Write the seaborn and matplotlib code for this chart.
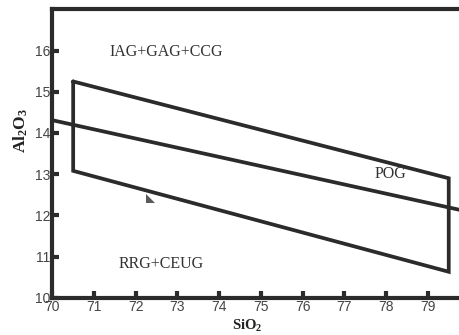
import matplotlib
matplotlib.use("Agg")
import matplotlib.pyplot as plt
import seaborn as sns
import pandas as pd

# Data
box_sio2 = [70.5, 70.5, 79.5, 79.5, 70.5]
box_al2o3 = [15.25, 13.08, 10.63, 12.9, 15.25]
div_sio2 = [70.0, 80.0]
div_al2o3 = [14.31, 12.08]
tri_sio2 = [72.25, 72.25, 72.47]
tri_al2o3 = [12.52, 12.30, 12.30]
x_ticks = [70, 71, 72, 73, 74, 75, 76, 77, 78, 79]
y_ticks = [10, 11, 12, 13, 14, 15, 16]
labels = ["IAG+GAG+CCG", "POG", "RRG+CEUG"]
label_x = [71.38, 77.72, 71.58]
label_y = [15.97, 13.0, 10.82]

sns.set_theme(style="ticks")
plt.rcParams['font.family'] = ['Liberation Sans', 'DejaVu Sans']
plt.rcParams['mathtext.fontset'] = 'custom'
plt.rcParams['mathtext.rm'] = 'Liberation Serif:bold'
plt.rcParams['mathtext.it'] = 'Liberation Serif:bold'
plt.rcParams['mathtext.bf'] = 'Liberation Serif:bold'
plt.rcParams['mathtext.default'] = 'rm'

fig = plt.figure(figsize=(4.6, 3.35), dpi=100)
ax = fig.add_axes([0.1137, 0.1113, 1.0 - 0.1137, 0.972 - 0.1113])

lc = "#2b2b2b"
box_df = pd.DataFrame({"x": box_sio2, "y": box_al2o3})
div_df = pd.DataFrame({"x": div_sio2, "y": div_al2o3})
sns.lineplot(data=box_df, x="x", y="y", sort=False, estimator=None, ax=ax,
             color=lc, linewidth=2.7, solid_joinstyle="miter")
sns.lineplot(data=div_df, x="x", y="y", sort=False, estimator=None, ax=ax,
             color=lc, linewidth=2.7)
ax.fill(tri_sio2, tri_al2o3, color="#5a5a5a", linewidth=0)

for t, x, y in zip(labels, label_x, label_y):
    ax.text(x, y, t, family="Liberation Serif", fontsize=11.5, color="#333333",
            ha="left", va="center")

ax.set_xlim(70, 79.77)
ax.set_ylim(10, 17)
ax.set_xticks(x_ticks)
ax.set_yticks(y_ticks)
ax.set_xticklabels([str(v) for v in x_ticks])
ax.set_yticklabels([str(v) for v in y_ticks])
ax.tick_params(direction="in", length=5, width=3, color=lc, labelsize=10,
               labelcolor="#444444", pad=1.5)
for s in ["left", "bottom", "top"]:
    ax.spines[s].set_linewidth(3)
    ax.spines[s].set_color(lc)
ax.spines["right"].set_visible(False)

ax.set_xlabel("SiO$_2$", family="Liberation Serif", fontweight="bold",
              fontsize=10.5, color="#222222")
ax.set_ylabel("Al$_2$O$_3$", family="Liberation Serif", fontweight="bold",
              fontsize=12.5, color="#222222")
ax.xaxis.set_label_coords((246.7 - 52.3) / (460 - 52.3), -0.097)
ax.xaxis.label.set_va("center")
ax.yaxis.set_label_coords(-0.077, (297.7 - 130) / (297.7 - 9.3))
ax.yaxis.label.set_va("center")

fig.savefig("out.png", dpi=100)
